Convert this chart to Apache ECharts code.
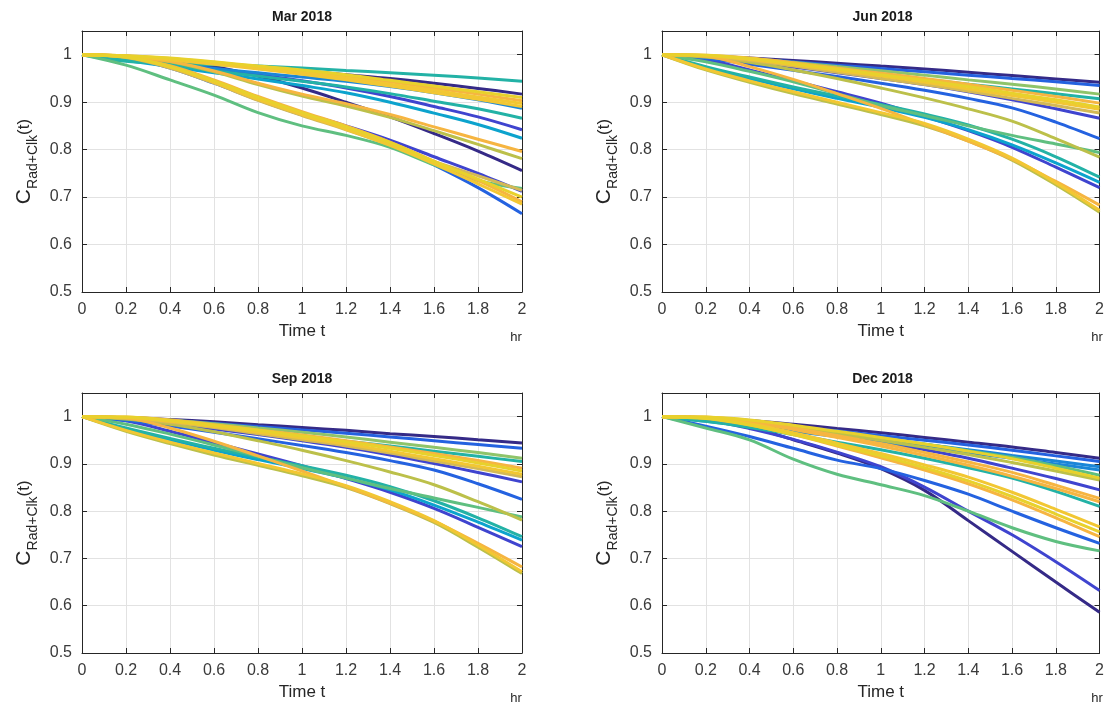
<!DOCTYPE html>
<html lang="en">
<head>
<meta charset="UTF-8">
<title>C Rad+Clk 2018</title>
<style>
  html, body, #main { width: 100%; height: 100%; margin: 0; padding: 0; background: #fff; }
</style>
<script src="https://cdn.jsdelivr.net/npm/echarts@6/dist/echarts.min.js"></script>
</head>
<body>
<div id="main"></div>
<script>
// shared time axis (hours)
const timeTicks = [0, 0.2, 0.4, 0.6, 0.8, 1.0, 1.2, 1.4, 1.6, 1.8, 2.0];
const panelTitles = ['Mar 2018', 'Jun 2018', 'Sep 2018', 'Dec 2018'];

// Mar 2018
const marCurves = [
  [1, .986, .982, .979, .976, .972, .967, .962, .957, .951, .944],
  [1, .995, .990, .983, .974, .966, .958, .950, .940, .929, .917],
  [1, .998, .993, .985, .976, .968, .958, .946, .934, .922, .910],
  [1, .998, .992, .984, .975, .966, .955, .943, .930, .917, .903],
  [1, .997, .990, .982, .972, .962, .951, .938, .925, .911, .897],
  [1, .997, .989, .980, .970, .959, .947, .934, .920, .906, .891],
  [1, .990, .980, .971, .962, .953, .944, .933, .920, .905, .887],
  [1, .990, .978, .966, .955, .944, .932, .918, .902, .886, .866],
  [1, .992, .982, .971, .958, .945, .930, .912, .891, .869, .842],
  [1, .988, .975, .962, .949, .935, .920, .900, .877, .853, .824],
  [1, .997, .986, .966, .940, .917, .897, .874, .848, .822, .796],
  [1, .997, .985, .964, .937, .913, .892, .868, .840, .811, .781],
  [1, .997, .990, .975, .955, .930, .900, .869, .834, .797, .756],
  [1, .993, .972, .940, .905, .873, .845, .812, .768, .720, .665],
  [1, .995, .975, .945, .910, .878, .848, .815, .775, .738, .700],
  [1, .996, .977, .947, .912, .880, .850, .816, .776, .735, .690],
  [1, .995, .974, .942, .906, .874, .843, .809, .770, .728, .685],
  [1, .994, .972, .940, .904, .872, .842, .810, .775, .745, .714],
  [1, .978, .947, .915, .878, .850, .830, .805, .768, .735, .718],
  [1, .994, .975, .945, .910, .878, .850, .820, .785, .750, .712]
];
const marColors = ['teal', 'navy', 'yellow', 'orange', 'gold', 'gold', 'lblue', 'teal', 'indigo', 'cyan',
  'orange', 'yg', 'navy', 'blue', 'yellow', 'orange', 'gold', 'olive', 'green', 'indigo'];

// Jun 2018
const junCurves = [
  [1, .997, .993, .988, .982, .976, .970, .963, .956, .949, .942],
  [1, .996, .991, .985, .978, .971, .964, .957, .950, .943, .935],
  [1, .998, .992, .984, .975, .966, .957, .947, .938, .928, .917],
  [1, .995, .987, .978, .968, .958, .948, .938, .928, .918, .907],
  [1, .999, .993, .983, .972, .961, .950, .938, .925, .912, .898],
  [1, .999, .992, .981, .970, .958, .946, .933, .919, .905, .890],
  [1, .998, .990, .979, .967, .955, .942, .928, .914, .900, .885],
  [1, .997, .988, .976, .963, .950, .937, .923, .908, .893, .877],
  [1, .995, .985, .974, .962, .950, .937, .922, .905, .886, .866],
  [1, .992, .980, .967, .954, .940, .925, .908, .888, .858, .823],
  [1, .995, .984, .968, .950, .930, .909, .886, .860, .823, .784],
  [1, .985, .965, .943, .918, .893, .872, .850, .830, .812, .794],
  [1, .990, .968, .945, .922, .898, .870, .840, .805, .763, .720],
  [1, .997, .975, .948, .918, .887, .853, .818, .780, .733, .683],
  [1, .975, .953, .932, .913, .895, .875, .852, .822, .785, .742],
  [1, .972, .950, .928, .908, .889, .868, .842, .810, .772, .731],
  [1, .970, .945, .922, .900, .878, .855, .822, .782, .730, .672],
  [1, .968, .942, .918, .896, .874, .850, .818, .778, .726, .668]
];
const junColors = ['navy', 'blue', 'lgreen', 'teal', 'orange', 'yellow', 'gold', 'olive', 'indigo', 'blue',
  'yg', 'green', 'indigo', 'orange', 'teal', 'cyan', 'gold', 'yg'];

// Sep 2018
const sepCurves = [
  [1, .998, .994, .989, .983, .977, .971, .964, .958, .951, .944],
  [1, .997, .992, .986, .979, .972, .965, .957, .949, .941, .933],
  [1, .998, .993, .985, .976, .967, .957, .946, .935, .924, .912],
  [1, .995, .987, .978, .968, .958, .948, .938, .927, .916, .905],
  [1, .999, .993, .983, .972, .961, .949, .936, .922, .907, .891],
  [1, .999, .992, .982, .971, .959, .947, .933, .918, .902, .885],
  [1, .998, .990, .979, .967, .955, .942, .927, .911, .895, .878],
  [1, .997, .988, .977, .964, .951, .938, .923, .906, .890, .873],
  [1, .995, .985, .974, .962, .949, .935, .919, .901, .882, .862],
  [1, .992, .980, .967, .953, .939, .924, .907, .887, .858, .825],
  [1, .984, .963, .940, .916, .892, .870, .848, .828, .808, .788],
  [1, .995, .984, .968, .949, .929, .907, .883, .856, .820, .781],
  [1, .976, .954, .933, .914, .896, .876, .852, .822, .786, .746],
  [1, .973, .951, .929, .909, .890, .870, .845, .813, .777, .739],
  [1, .991, .969, .945, .921, .896, .869, .840, .806, .766, .725],
  [1, .997, .976, .948, .917, .885, .852, .817, .779, .732, .682],
  [1, .971, .946, .923, .901, .879, .854, .820, .780, .728, .672],
  [1, .969, .943, .919, .897, .875, .850, .816, .776, .724, .668]
];
const sepColors = ['navy', 'blue', 'lgreen', 'teal', 'orange', 'yellow', 'gold', 'olive', 'indigo', 'blue',
  'green', 'yg', 'teal', 'cyan', 'indigo', 'orange', 'gold', 'yg'];

// Dec 2018
const decCurves = [
  [1, .997, .992, .984, .975, .966, .956, .946, .936, .924, .912],
  [1, .995, .988, .979, .970, .960, .950, .940, .929, .917, .905],
  [1, .993, .984, .974, .963, .952, .941, .930, .918, .906, .894],
  [1, .990, .980, .969, .958, .947, .936, .924, .912, .900, .887],
  [1, .997, .990, .979, .967, .955, .942, .928, .914, .896, .876],
  [1, .999, .993, .982, .969, .956, .942, .927, .911, .891, .870],
  [1, .998, .990, .978, .964, .950, .935, .920, .903, .885, .866],
  [1, .996, .987, .975, .962, .947, .930, .912, .891, .869, .845],
  [1, .999, .990, .976, .960, .943, .924, .904, .882, .855, .827],
  [1, .998, .988, .973, .956, .938, .918, .897, .874, .848, .820],
  [1, .990, .977, .962, .946, .930, .912, .892, .870, .842, .810],
  [1, .997, .985, .966, .944, .922, .898, .872, .840, .804, .767],
  [1, .996, .982, .962, .940, .917, .892, .864, .831, .794, .756],
  [1, .997, .983, .962, .938, .913, .887, .858, .824, .786, .746],
  [1, .980, .958, .933, .908, .890, .865, .836, .800, .765, .732],
  [1, .976, .951, .910, .878, .856, .833, .800, .765, .736, .716],
  [1, .993, .975, .952, .925, .894, .851, .800, .750, .693, .632],
  [1, .995, .978, .951, .923, .890, .844, .780, .715, .650, .586]
];
const decColors = ['navy', 'blue', 'lblue', 'lblue', 'green', 'yellow', 'yg', 'indigo', 'orange', 'orange',
  'teal', 'gold', 'yellow', 'orange', 'blue', 'green', 'indigo', 'navy'];

// parula-like line colours, drawn in this order (yellow ends on top)
const palette = {
  navy: '#352a87', indigo: '#3f44cf', blue: '#2462e0', lblue: '#1a86d8', cyan: '#0ca3cd',
  teal: '#23b2a6', green: '#5fbf80', lgreen: '#8fc46a', yg: '#bcc04a', olive: '#d4b956',
  orange: '#f6b541', gold: '#f2c733', yellow: '#e8d12c'
};
const paletteOrder = Object.keys(palette);

var chart = echarts.init(document.getElementById('main'));

var grids = [
  { left: 82, top: 31, width: 440, height: 261 },
  { left: 662, top: 31, width: 441, height: 261 },
  { left: 82, top: 393, width: 440, height: 260 },
  { left: 662, top: 393, width: 441, height: 260 }
];
var panels = [
  { curves: marCurves, colors: marColors },
  { curves: junCurves, colors: junColors },
  { curves: sepCurves, colors: sepColors },
  { curves: decCurves, colors: decColors }
];

var ink = '#262626';
var font = '"Liberation Sans", Arial, sans-serif';
var xAxes = [], yAxes = [], series = [], graphics = [];

panels.forEach(function (p, i) {
  var g = grids[i];
  var frame = { show: true, onZero: false, lineStyle: { color: ink, width: 1 } };
  var ticks = { show: true, inside: true, length: 5, lineStyle: { color: ink } };

  xAxes.push({
    gridIndex: i, type: 'value', min: 0, max: 2, interval: 0.2, position: 'bottom',
    name: 'Time t', nameLocation: 'middle', nameGap: 31,
    nameTextStyle: { fontSize: 17, color: ink, fontFamily: font },
    axisLine: frame, axisTick: ticks,
    axisLabel: { color: '#3a3a3a', fontSize: 16, margin: 10, fontFamily: font },
    splitLine: { show: true, lineStyle: { color: '#e2e2e2', width: 1 } }
  });
  xAxes.push({
    gridIndex: i, type: 'value', min: 0, max: 2, interval: 0.2, position: 'top',
    axisLine: frame, axisTick: ticks, axisLabel: { show: false }, splitLine: { show: false }
  });
  yAxes.push({
    gridIndex: i, type: 'value', min: 0.5, max: 1.05, interval: 0.1, position: 'left',
    name: '{c|C}{s|Rad+Clk}{p|(t)}', nameLocation: 'middle', nameRotate: 90, nameGap: 42,
    nameTextStyle: {
      color: ink, fontFamily: font,
      rich: {
        c: { fontSize: 21, lineHeight: 32, verticalAlign: 'middle', color: ink, fontFamily: font },
        s: { fontSize: 14, lineHeight: 14, verticalAlign: 'bottom', color: ink, fontFamily: font },
        p: { fontSize: 17, lineHeight: 32, verticalAlign: 'middle', color: ink, fontFamily: font }
      }
    },
    axisLine: frame, axisTick: ticks,
    axisLabel: { color: '#3a3a3a', fontSize: 16, margin: 10, fontFamily: font, showMaxLabel: false },
    splitLine: { show: true, lineStyle: { color: '#e2e2e2', width: 1 } }
  });
  yAxes.push({
    gridIndex: i, type: 'value', min: 0.5, max: 1.05, interval: 0.1, position: 'right',
    axisLine: frame, axisTick: ticks, axisLabel: { show: false }, splitLine: { show: false }
  });

  var order = p.curves.map(function (c, k) { return k; });
  order.sort(function (a, b) {
    return paletteOrder.indexOf(p.colors[a]) - paletteOrder.indexOf(p.colors[b]);
  });
  order.forEach(function (k) {
    series.push({
      type: 'line', xAxisIndex: 2 * i, yAxisIndex: 2 * i,
      data: timeTicks.map(function (t, j) { return [t, p.curves[k][j]]; }),
      showSymbol: false, smooth: 0.35, silent: true,
      lineStyle: { width: 3, color: palette[p.colors[k]] }
    });
  });

  graphics.push({
    type: 'text', x: g.left + g.width / 2, y: g.top - 14,
    style: { text: panelTitles[i], fontSize: 14, fontWeight: 'bold', fontFamily: font,
      fill: '#1a1a1a', align: 'center', verticalAlign: 'middle' }
  });
  graphics.push({
    type: 'text', x: g.left + g.width - 6, y: g.top + g.height + 45,
    style: { text: 'hr', fontSize: 13, fontFamily: font, fill: ink,
      align: 'center', verticalAlign: 'middle' }
  });
});

var option = {
  animation: false,
  grid: grids,
  xAxis: xAxes,
  yAxis: yAxes,
  series: series,
  graphic: graphics
};

chart.setOption(option);
</script>
</body>
</html>
